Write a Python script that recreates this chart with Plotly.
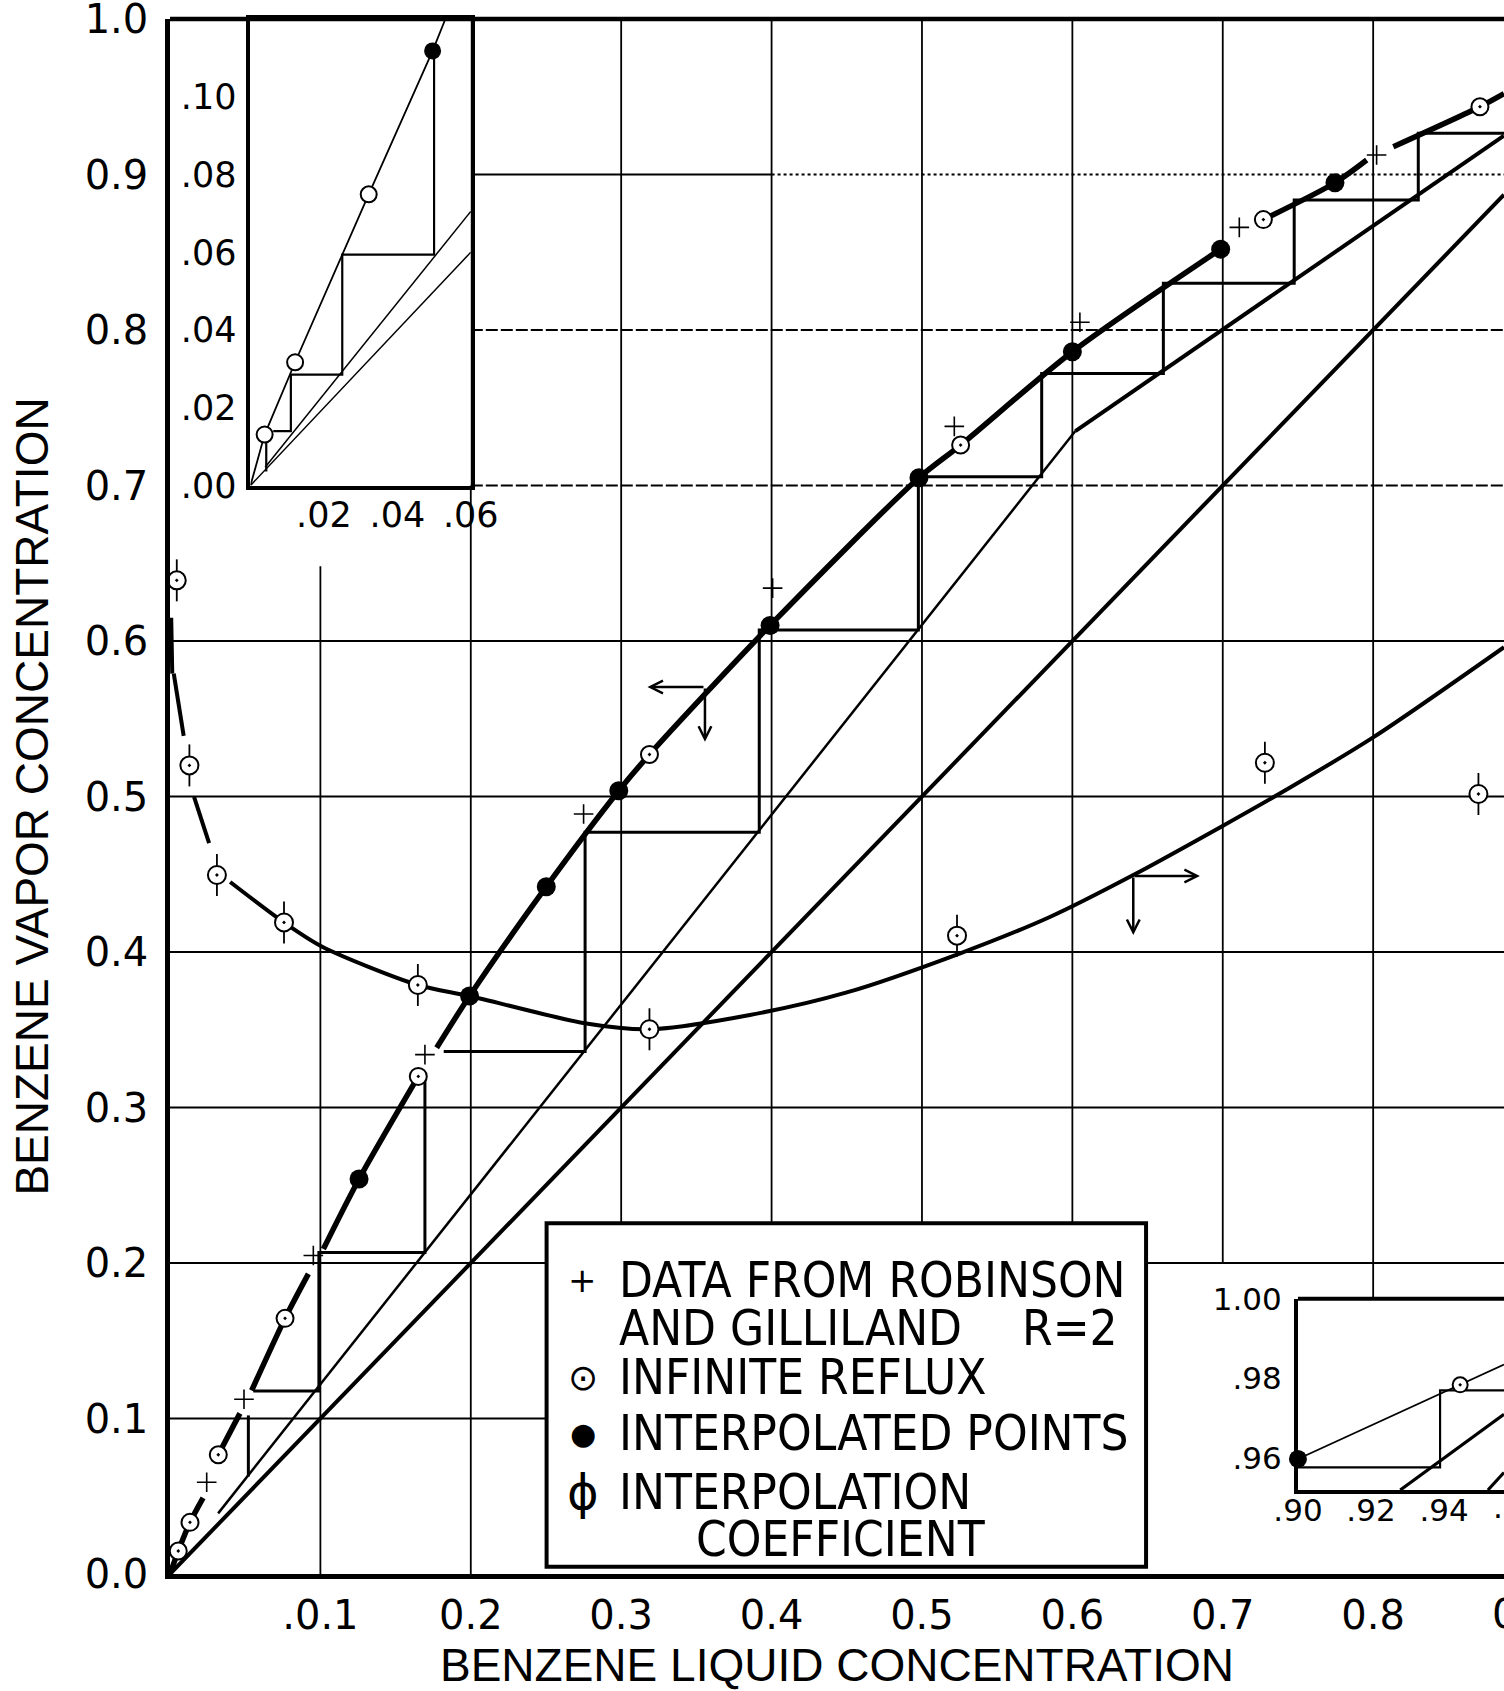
import plotly.graph_objects as go

# ---------------------------------------------------------------- data
X_MAX = 0.887   # liquid concentration at the right-hand edge of the drawing

# Equilibrium curve (None = pen lifted around plotted symbols)
eq_x = [0.0, 0.0055, 0.0133, 0.022, None,
        0.0321, 0.0465, None,
        0.0543, 0.0765, 0.092, None,
        0.102, 0.1257, 0.1651, None,
        0.1773, 0.1992, 0.2502, 0.2984, 0.3188, 0.399, 0.498, 0.5257, 0.600, 0.6986, None,
        0.727, 0.7746, 0.7957, None,
        0.8134, 0.871, 0.887]
eq_y = [0.0, 0.0148, 0.0332, 0.049, None,
        0.0767, 0.1033, None,
        0.118, 0.1644, 0.193, None,
        0.209, 0.254, 0.320, None,
        0.3384, 0.3717, 0.442, 0.5037, 0.527, 0.610, 0.705, 0.726, 0.786, 0.852, None,
        0.871, 0.8947, 0.9093, None,
        0.9179, 0.9436, 0.952]

# Operating lines and 45-degree line
diag_x = [0.0, 0.887]
diag_y = [0.0, 0.887]
strip_x = [0.032, 0.602]
strip_y = [0.039, 0.735]
rect_x = [0.602, 0.887]
rect_y = [0.735, 0.925]

# Stage construction (R = 2)
step_x = [0.887, 0.830, 0.830, 0.7475, 0.7475, 0.6605, 0.6605, 0.5796, 0.5796,
          0.4976, 0.4976, 0.3918, 0.3918, 0.276, 0.276, 0.182, None,
          0.1695, 0.1695, 0.099, 0.099, 0.0554, None, 0.0521, 0.0521]
step_y = [0.9265, 0.9265, 0.8836, 0.8836, 0.830, 0.830, 0.772, 0.772, 0.7057,
          0.7057, 0.607, 0.607, 0.477, 0.477, 0.336, 0.336, None,
          0.320, 0.2067, 0.2067, 0.1177, 0.1177, None, 0.102, 0.0627]

# Data from Robinson and Gilliland, R = 2
robinson_x = [0.0244, 0.0492, 0.0953, 0.1695, 0.275, 0.4007, 0.5215, 0.605, 0.711, 0.8023]
robinson_y = [0.059, 0.1124, 0.2048, 0.334, 0.4887, 0.634, 0.738, 0.805, 0.866, 0.9125]

# Infinite reflux
reflux_x = [0.0055, 0.0133, 0.0321, 0.0765, 0.1651, 0.3188, 0.5257, 0.727, 0.871]
reflux_y = [0.0148, 0.0332, 0.0767, 0.1644, 0.320, 0.527, 0.726, 0.871, 0.9436]

# Interpolated points
interp_x = [0.1257, 0.1992, 0.2502, 0.2984, 0.399, 0.498, 0.600, 0.6986, 0.7746]
interp_y = [0.254, 0.3717, 0.442, 0.5037, 0.610, 0.705, 0.786, 0.852, 0.8947]

# Interpolation coefficient (points and faired curve)
coef_x = [0.0045, 0.0129, 0.0312, 0.0758, 0.1648, 0.3188, 0.5233, 0.728, 0.870]
coef_y = [0.639, 0.520, 0.4495, 0.419, 0.3788, 0.3503, 0.4105, 0.5217, 0.5016]
coefc_x = [0.0008, 0.0015, None, 0.0025, 0.0091, None, 0.016, 0.026, None,
           0.040, 0.0758, 0.1012, 0.1648, 0.1992, 0.2768, 0.3188, 0.3856, 0.45,
           0.525, 0.585, 0.6405, 0.699, 0.7425, 0.800, 0.887]
coefc_y = [0.615, 0.579, None, 0.579, 0.539, None, 0.4998, 0.470, None,
           0.445, 0.419, 0.4034, 0.3788, 0.3717, 0.354, 0.3503, 0.3595, 0.374,
           0.399, 0.4225, 0.4495, 0.4806, 0.5045, 0.538, 0.596]

# Low-concentration enlargement
lo_eq_x = [0.0, 0.00386, 0.01216, 0.0322, 0.0496, 0.053]
lo_eq_y = [0.0, 0.0131, 0.0317, 0.0749, 0.1118, 0.1198]
lo_reflux_x = [0.00386, 0.01216, 0.0322]
lo_reflux_y = [0.0131, 0.0317, 0.0749]
lo_interp_x = [0.0496]
lo_interp_y = [0.1118]
lo_strip_x = [0.004, 0.06]
lo_strip_y = [0.0047, 0.0705]
lo_diag_x = [0.0, 0.06]
lo_diag_y = [0.0, 0.06]
lo_step_x = [0.0500, 0.0500, 0.0250, 0.0250, 0.0110, 0.0110, 0.0062, None, 0.0043, 0.0043]
lo_step_y = [0.1118, 0.0594, 0.0594, 0.0285, 0.0285, 0.0140, 0.0140, None, 0.0118, 0.0036]

# High-concentration enlargement
hi_eq_x = [0.90, 0.9234, 0.9444, 0.9564]
hi_eq_y = [0.9598, 0.9696, 0.9784, 0.9835]
hi_reflux_x = [0.9444]
hi_reflux_y = [0.9784]
hi_interp_x = [0.90]
hi_interp_y = [0.9598]
hi_rect_x = [0.928, 0.9564]
hi_rect_y = [0.952, 0.9710]
hi_diag_x = [0.952, 0.9564]
hi_diag_y = [0.952, 0.9564]
hi_step_x = [0.90, 0.9389, 0.9389, 0.9564]
hi_step_y = [0.9577, 0.9577, 0.977, 0.977]

# Tick labels
main_xticks = [0.1, 0.2, 0.3, 0.4, 0.5, 0.6, 0.7, 0.8, 0.9]
main_xlabels = [".0.1", "0.2", "0.3", "0.4", "0.5", "0.6", "0.7", "0.8", "0.9"]
main_yticks = [0.0, 0.1, 0.2, 0.3, 0.4, 0.5, 0.6, 0.7, 0.8, 0.9, 1.0]
main_ylabels = ["0.0", "0.1", "0.2", "0.3", "0.4", "0.5", "0.6", "0.7", "0.8", "0.9", "1.0"]
lo_xticks = [0.02, 0.04, 0.06]
lo_xlabels = [".02", ".04", ".06"]
lo_yticks = [0.0, 0.02, 0.04, 0.06, 0.08, 0.10]
lo_ylabels = [".00", ".02", ".04", ".06", ".08", ".10"]
hi_xticks = [0.90, 0.92, 0.94, 0.96]
hi_xlabels = [".90", ".92", ".94", ".96"]
hi_yticks = [0.96, 0.98, 1.00]
hi_ylabels = [".96", ".98", "1.00"]

legend_entries = [
    ("+", "DATA FROM ROBINSON"),
    ("", "AND GILLILAND"),
    ("\u2299", "INFINITE REFLUX"),
    ("\u25cf", "INTERPOLATED POINTS"),
    ("\u03d5", "INTERPOLATION"),
    ("", "COEFFICIENT"),
]

# ---------------------------------------------------------------- styling
INK = "black"
NUM_FONT = "DejaVu Sans"
LETTER_FONT = "Liberation Sans Narrow, DejaVu Sans Condensed, Liberation Sans, sans-serif"
TITLE_FONT = "Liberation Sans, Arial, sans-serif"

fig = go.Figure()


def add_line(x, y, width, xa="x", ya="y", shape="linear", dash="solid"):
    fig.add_trace(go.Scatter(
        x=x, y=y, mode="lines", xaxis=xa, yaxis=ya, connectgaps=False,
        line=dict(color=INK, width=width, shape=shape, smoothing=0.8, dash=dash),
        hoverinfo="skip", showlegend=False))


def add_markers(x, y, symbol, size, fill, lw, xa="x", ya="y"):
    fig.add_trace(go.Scatter(
        x=x, y=y, mode="markers", xaxis=xa, yaxis=ya, cliponaxis=False,
        marker=dict(symbol=symbol, size=size, color=fill,
                    line=dict(color=INK, width=lw)),
        hoverinfo="skip", showlegend=False))


# main diagram
add_line(diag_x, diag_y, 4)
add_line(strip_x, strip_y, 2.5)
add_line(rect_x, rect_y, 4)
add_line(step_x, step_y, 3)
add_line(coefc_x, coefc_y, 4, shape="spline")
add_line(eq_x, eq_y, 5.5, shape="spline")
add_markers(robinson_x, robinson_y, "cross-thin", 14, INK, 1.6)
add_markers(coef_x, coef_y, "line-ns", 30, INK, 1.8)
add_markers(coef_x, coef_y, "circle-dot", 18, "white", 2)
add_markers(reflux_x, reflux_y, "circle-dot", 17, "white", 2)
add_markers(interp_x, interp_y, "circle", 19, INK, 0)

# low-concentration enlargement
add_line(lo_diag_x, lo_diag_y, 1.5, "x2", "y2")
add_line(lo_strip_x, lo_strip_y, 1.5, "x2", "y2")
add_line(lo_step_x, lo_step_y, 2.2, "x2", "y2")
add_line(lo_eq_x, lo_eq_y, 1.8, "x2", "y2")
add_markers(lo_reflux_x, lo_reflux_y, "circle", 16, "white", 2, "x2", "y2")
add_markers(lo_interp_x, lo_interp_y, "circle", 17, INK, 0, "x2", "y2")

# high-concentration enlargement
add_line(hi_diag_x, hi_diag_y, 3.2, "x3", "y3")
add_line(hi_rect_x, hi_rect_y, 3.2, "x3", "y3")
add_line(hi_step_x, hi_step_y, 2.2, "x3", "y3")
add_line(hi_eq_x, hi_eq_y, 1.8, "x3", "y3")
add_markers(hi_reflux_x, hi_reflux_y, "circle-dot", 15, "white", 2, "x3", "y3")
add_markers(hi_interp_x, hi_interp_y, "circle", 18, INK, 0, "x3", "y3")

# ---------------------------------------------------------------- layout geometry
# enlargement frames in main-diagram units
LO_BOX = (0.0535, 0.2, 0.70, 1.0)
HI_BOX = (0.75, X_MAX, 0.054, 0.177)
LEG = dict(x0=0.2504, x1=0.649, y0=0.0047, y1=0.2255)


def fx(v):
    return v / X_MAX


num_tick = dict(family=NUM_FONT, size=40, color=INK)
ax_common = dict(showgrid=False, zeroline=False, showline=True, linecolor=INK,
                 ticks="", fixedrange=True, ticklabeloverflow="allow")

fig.update_layout(
    width=1504, height=1691,
    margin=dict(l=170, r=0, t=19, b=117, pad=0, autoexpand=False),
    paper_bgcolor="white", plot_bgcolor="white",
    showlegend=False,
    xaxis=dict(**ax_common, domain=[0, 1], range=[0, X_MAX], linewidth=4.5,
               tickvals=main_xticks[:-1], ticktext=main_xlabels[:-1],
               tickfont=num_tick, ticklabelstandoff=2,
               title=dict(text="BENZENE LIQUID CONCENTRATION",
                          font=dict(family=TITLE_FONT, size=46, color=INK), standoff=24)),
    yaxis=dict(**ax_common, domain=[0, 1], range=[0, 1], linewidth=4.5,
               tickvals=main_yticks, ticktext=main_ylabels,
               tickfont=num_tick, ticklabelstandoff=9,
               title=dict(text="BENZENE VAPOR CONCENTRATION",
                          font=dict(family=TITLE_FONT, size=46, color=INK), standoff=23)),
    xaxis2=dict(**ax_common, domain=[fx(LO_BOX[0]), fx(LO_BOX[1])], range=[0, 0.06],
                anchor="y2", mirror=True, linewidth=4,
                tickvals=lo_xticks, ticktext=lo_xlabels, ticklabelstandoff=-5,
                tickfont=dict(family=NUM_FONT, size=35, color=INK)),
    yaxis2=dict(**ax_common, domain=[LO_BOX[2], LO_BOX[3]], range=[0, 0.12],
                anchor="x2", mirror=True, linewidth=4,
                tickvals=lo_yticks, ticktext=lo_ylabels, ticklabelstandoff=3,
                tickfont=dict(family=NUM_FONT, size=35, color=INK)),
    xaxis3=dict(**ax_common, domain=[fx(HI_BOX[0]), 1.0], range=[0.90, 0.9564],
                anchor="y3", linewidth=4,
                tickvals=hi_xticks[:-1], ticktext=hi_xlabels[:-1], ticklabelstandoff=-10,
                tickfont=dict(family=NUM_FONT, size=31, color=INK)),
    yaxis3=dict(**ax_common, domain=[HI_BOX[2], HI_BOX[3]], range=[0.952, 1.0],
                anchor="x3", linewidth=4,
                tickvals=hi_yticks, ticktext=hi_ylabels, ticklabelstandoff=6,
                tickfont=dict(family=NUM_FONT, size=31, color=INK)),
)

# ---------------------------------------------------------------- grid, frames
shapes = []
GRID = dict(color=INK, width=1.8)
LEG_TOP = LEG["y1"]
vgrid = [(0.1, 0.0, 0.648), (0.2, 0.0, 1.0), (0.3, LEG_TOP, 1.0), (0.4, LEG_TOP, 1.0),
         (0.5, LEG_TOP, 1.0), (0.6, LEG_TOP, 1.0), (0.7, 0.2, 1.0), (0.8, HI_BOX[3], 1.0)]
hgrid = [(0.9, 0.2, 0.4, "solid"), (0.9, 0.4, X_MAX, "dot"),
         (0.8, 0.2, X_MAX, "12px,3px"), (0.7, 0.2, X_MAX, "12px,3px"),
         (0.6, 0.0, X_MAX, "solid"), (0.5, 0.0, X_MAX, "solid"),
         (0.4, 0.0, X_MAX, "solid"), (0.3, 0.0, X_MAX, "solid"),
         (0.2, 0.0, LEG["x0"], "solid"), (0.2, LEG["x1"], X_MAX, "solid"),
         (0.1, 0.0, LEG["x0"], "solid")]
for x, y0, y1 in vgrid:
    shapes.append(dict(type="line", xref="x", yref="y", x0=x, x1=x, y0=y0, y1=y1,
                       line=GRID, layer="below"))
for y, x0, x1, dash in hgrid:
    shapes.append(dict(type="line", xref="x", yref="y", x0=x0, x1=x1, y0=y, y1=y,
                       line=dict(GRID, dash=dash), layer="below"))
# legend frame
shapes.append(dict(type="rect", xref="x", yref="y", **LEG, fillcolor="white",
                   line=dict(color=INK, width=4), layer="below"))
# top border of main frame and of high-concentration frame
shapes.append(dict(type="line", xref="paper", yref="paper", x0=0, x1=1, y0=1, y1=1,
                   line=dict(color=INK, width=4.5)))
shapes.append(dict(type="line", xref="x3 domain", yref="y3 domain", x0=0, x1=1, y0=1, y1=1,
                   line=dict(color=INK, width=4)))
fig.update_layout(shapes=shapes)

# ---------------------------------------------------------------- annotations
ann = []
# axis-reading arrows
for (hx, hy, tx, ty) in [(0.3175, 0.5704, 0.3557, 0.5704), (0.3557, 0.5352, 0.3557, 0.5704),
                         (0.6848, 0.4489, 0.6405, 0.4489), (0.6405, 0.411, 0.6405, 0.4489)]:
    ann.append(dict(x=hx, y=hy, ax=tx, ay=ty, xref="x", yref="y", axref="x", ayref="y",
                    text="", showarrow=True, arrowhead=5, arrowsize=1, arrowwidth=2.5,
                    arrowcolor=INK, standoff=0, startstandoff=0))
# tick labels running off the right edge
ann.append(dict(x=fx(main_xticks[-1]), y=0, xref="paper", yref="paper", yshift=-40,
                text=main_xlabels[-1], showarrow=False, xanchor="center", yanchor="middle",
                font=num_tick))
hx0 = fx(HI_BOX[0])
ann.append(dict(x=hx0 + (hi_xticks[-1] - 0.90) / (0.9564 - 0.90) * (1 - hx0),
                y=HI_BOX[2], xref="paper", yref="y", yshift=-17,
                text=hi_xlabels[-1], showarrow=False, xanchor="center", yanchor="middle",
                font=dict(family=NUM_FONT, size=31, color=INK)))
# legend text
rows_y = [0.189, 0.158, 0.1265, 0.0905, 0.0525, 0.022]
LEG_SYM_X, LEG_TXT_X, LEG_INDENT_X, LEG_R_X = 0.2745, 0.2972, 0.3484, 0.565
sym_size = {"+": 34, "\u2299": 36, "\u25cf": 30, "\u03d5": 48}
for i, (sym, txt) in enumerate(legend_entries):
    tx = LEG_INDENT_X if txt == "COEFFICIENT" else LEG_TXT_X
    ann.append(dict(x=tx, y=rows_y[i], xref="x", yref="y", text=txt, showarrow=False,
                    xanchor="left", yanchor="middle",
                    font=dict(family=LETTER_FONT, size=49, color=INK)))
    if sym:
        ann.append(dict(x=LEG_SYM_X, y=rows_y[i], xref="x", yref="y", text=sym,
                        showarrow=False, xanchor="center", yanchor="middle",
                        font=dict(family="DejaVu Sans", size=sym_size[sym], color=INK)))
ann.append(dict(x=LEG_R_X, y=rows_y[1], xref="x", yref="y", text="R=2", showarrow=False,
                xanchor="left", yanchor="middle",
                font=dict(family=LETTER_FONT, size=49, color=INK)))
fig.update_layout(annotations=ann)

fig.write_html("out.html")
